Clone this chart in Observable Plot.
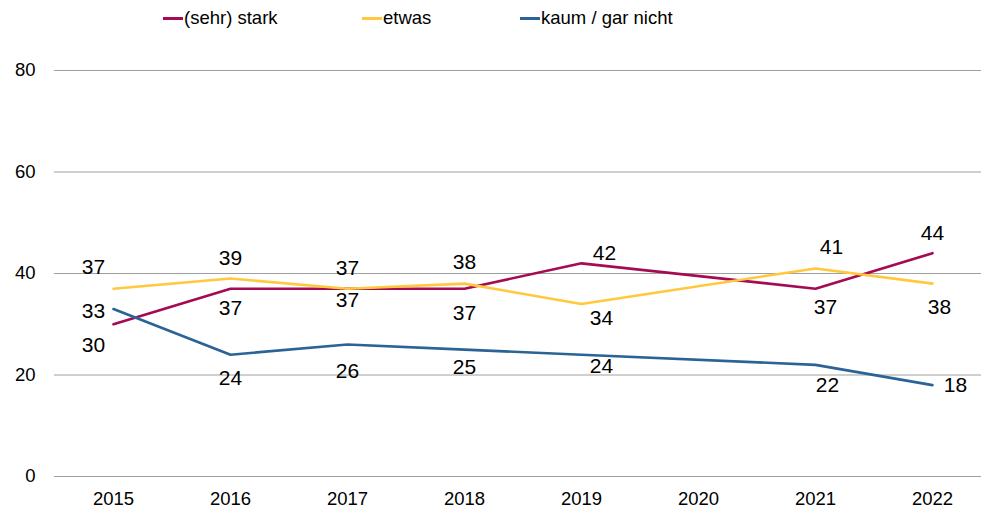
<!DOCTYPE html>
<html>
<head>
<meta charset="utf-8">
<script src="https://cdn.jsdelivr.net/npm/d3@7"></script>
<script src="https://cdn.jsdelivr.net/npm/@observablehq/plot@0.6"></script>
<style>
  html, body { margin: 0; padding: 0; background: #fff; }
  body { width: 981px; height: 510px; overflow: hidden; font-family: "Liberation Sans", Arial, sans-serif; }
  #legend { position: relative; height: 38px; width: 981px; }
  .item { position: absolute; top: 7px; display: flex; align-items: center; font-size: 18.5px; color: #000; }
  .sw { display: inline-block; width: 20px; height: 3px; margin-right: 1px; }
</style>
</head>
<body>
<div id="legend"></div>
<div id="chart"></div>
<script>
const years = ["2015", "2016", "2017", "2018", "2019", "2020", "2021", "2022"];
const seriesNames = ["(sehr) stark", "etwas", "kaum / gar nicht"];
const stark = [30, 37, 37, 37, 42, null, 37, 44];
const etwas = [37, 39, 37, 38, 34, null, 41, 38];
const kaum  = [33, 24, 26, 25, 24, null, 22, 18];
const yTicks = [0, 20, 40, 60, 80];

const colors = ["#A50B52", "#FFC83D", "#2A6496"];
// label placement offsets [dx, dy] in px, per series and year
const labelOffsets = [
  [[-20, 21], [0, 20], [0, 12], [0, 25], [23, -10], null, [10, 19], [0, -20]],
  [[-20, -21], [0, -20], [0, -20], [0, -21], [20, 14], null, [16, -21], [7, 24]],
  [[-20, 2], [0, 24], [0, 27], [0, 18], [20, 12], null, [12, 20], [23, 0]]
];
const legendX = [163, 362, 520];

const values = [stark, etwas, kaum];
const data = [];
values.forEach((arr, s) => arr.forEach((v, i) => {
  if (v != null) data.push({series: seriesNames[s], year: years[i], value: v,
    dx: labelOffsets[s][i][0], dy: labelOffsets[s][i][1]});
}));

const legend = document.getElementById("legend");
seriesNames.forEach((n, i) => {
  const d = document.createElement("div");
  d.className = "item";
  d.style.left = legendX[i] + "px";
  d.innerHTML = `<span class="sw" style="background:${colors[i]}"></span><span>${n}</span>`;
  legend.appendChild(d);
});

const marks = [
  Plot.gridY(yTicks, {stroke: "#a0a0a0", strokeOpacity: 1, strokeWidth: 1}),
  Plot.axisY(yTicks, {tickSize: 0, tickPadding: 19, fontSize: 18.5, fill: "#000", label: null}),
  Plot.axisX(years, {tickSize: 0, tickPadding: 15, fontSize: 18.5, fill: "#000", label: null}),
  Plot.line(data, {x: "year", y: "value", z: "series", stroke: "series", strokeWidth: 2.6, strokeLinejoin: "miter"})
];
data.forEach(d => {
  marks.push(Plot.text([d], {x: "year", y: "value", text: d => String(d.value),
    dx: d.dx, dy: d.dy, fontSize: 21, fill: "#000"}));
});

const chart = Plot.plot({
  width: 981,
  height: 472,
  marginTop: 32,
  marginBottom: 34,
  marginLeft: 54,
  marginRight: 0,
  style: {fontFamily: "Liberation Sans, Arial, sans-serif", background: "#fff", overflow: "visible"},
  x: {type: "point", domain: years, range: [54, 990], padding: 0.5, axis: null, label: null},
  y: {domain: [0, 80], axis: null, label: null},
  color: {domain: seriesNames, range: colors},
  marks
});
document.getElementById("chart").appendChild(chart);
</script>
</body>
</html>
